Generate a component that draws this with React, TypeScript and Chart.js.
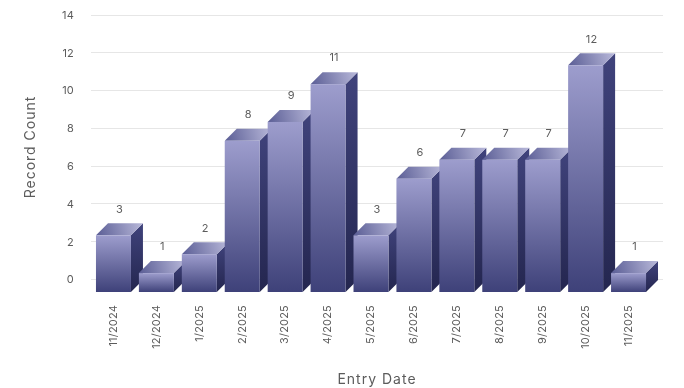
import React, { useEffect, useRef } from "react";
import { Chart, registerables } from "chart.js";

Chart.register(...registerables);

const categories = ["11/2024", "12/2024", "1/2025", "2/2025", "3/2025", "4/2025", "5/2025", "6/2025", "7/2025", "8/2025", "9/2025", "10/2025", "11/2025"];
const recordCounts = [3, 1, 2, 8, 9, 11, 3, 6, 7, 7, 7, 12, 1];
const yAxisStep = 2;
const yAxisMax = 14;
const xAxisTitle = "Entry Date";
const yAxisTitle = "Record Count";

const FONT = "Inter, 'Open Sans', sans-serif";
const DEPTH = 12;
const TEXT = "#5c5c5c";
const GRID = "#e6e6e6";

// Paints the extruded bars, the receding grid plane, the value captions and axis titles.
const bars3d = {
  id: "bars3d",
  beforeDraw(chart: any) {
    chart.ctx.letterSpacing = "0.2px";
  },
  beforeDatasetsDraw(chart: any) {
    const { ctx, chartArea, scales } = chart;
    const y = scales.y;
    ctx.save();
    ctx.strokeStyle = GRID;
    ctx.lineWidth = 1;
    for (let v = 0; v <= yAxisMax; v += yAxisStep) {
      const py = Math.floor(y.getPixelForValue(v) - DEPTH - 0.5) + 0.5;
      ctx.beginPath();
      ctx.moveTo(chartArea.left - 1, py);
      ctx.lineTo(chartArea.right + DEPTH + 1, py);
      ctx.stroke();
    }
    ctx.restore();
  },
  afterDatasetsDraw(chart: any) {
    const { ctx, chartArea } = chart;
    const meta = chart.getDatasetMeta(0);
    ctx.save();
    meta.data.forEach((bar: any, i: number) => {
      const { x, y, base, width } = bar.getProps(["x", "y", "base", "width"], true);
      const l = x - width / 2;
      const r = x + width / 2;

      const side = ctx.createLinearGradient(0, y - DEPTH, 0, base);
      side.addColorStop(0, "#40437c");
      side.addColorStop(1, "#24264f");
      ctx.fillStyle = side;
      ctx.beginPath();
      ctx.moveTo(r, y);
      ctx.lineTo(r + DEPTH, y - DEPTH);
      ctx.lineTo(r + DEPTH, base - DEPTH);
      ctx.lineTo(r, base);
      ctx.closePath();
      ctx.fill();

      const lid = ctx.createLinearGradient(l, y, r + DEPTH, y - DEPTH);
      lid.addColorStop(0, "#5a5d95");
      lid.addColorStop(1, "#b9b9da");
      ctx.fillStyle = lid;
      ctx.beginPath();
      ctx.moveTo(l, y);
      ctx.lineTo(l + DEPTH, y - DEPTH);
      ctx.lineTo(r + DEPTH, y - DEPTH);
      ctx.lineTo(r, y);
      ctx.closePath();
      ctx.fill();

      const front = ctx.createLinearGradient(0, y, 0, base);
      front.addColorStop(0, "#9d9dcd");
      front.addColorStop(1, "#3e4179");
      ctx.fillStyle = front;
      ctx.fillRect(l, y, width, base - y);

      ctx.fillStyle = TEXT;
      ctx.font = `11px ${FONT}`;
      ctx.textAlign = "center";
      ctx.textBaseline = "middle";
      ctx.fillText(String(recordCounts[i]), x + DEPTH / 2, y - DEPTH - 14);
    });

    ctx.fillStyle = TEXT;
    ctx.font = `14px ${FONT}`;
    ctx.letterSpacing = "1px";
    ctx.textAlign = "center";
    ctx.textBaseline = "middle";
    ctx.fillText(xAxisTitle, (chartArea.left + chartArea.right + DEPTH) / 2, 380);
    ctx.translate(31, 147);
    ctx.rotate(-Math.PI / 2);
    ctx.fillText(yAxisTitle, 0, 0);
    ctx.restore();
  },
};

export default function App() {
  const canvasRef = useRef<HTMLCanvasElement | null>(null);

  useEffect(() => {
    const chart = new Chart(canvasRef.current as HTMLCanvasElement, {
      type: "bar",
      data: {
        labels: categories,
        datasets: [
          {
            label: yAxisTitle,
            data: recordCounts,
            backgroundColor: "rgba(0,0,0,0)",
            barPercentage: 0.815,
            categoryPercentage: 1,
          },
        ],
      },
      options: {
        responsive: false,
        animation: false,
        layout: { padding: { top: 27.5, right: 34, left: 0, bottom: 0 } },
        plugins: { legend: { display: false }, tooltip: { enabled: false } },
        scales: {
          x: {
            grid: { display: false, drawTicks: false },
            border: { display: false },
            ticks: {
              minRotation: 90,
              maxRotation: 90,
              autoSkip: false,
              padding: 13,
              color: TEXT,
              font: { family: FONT, size: 11 },
            },
            afterFit(scale: any) {
              scale.height = 96;
            },
          },
          y: {
            min: 0,
            max: yAxisMax,
            grid: { display: false, drawTicks: false },
            border: { display: false },
            ticks: {
              stepSize: yAxisStep,
              padding: 18,
              labelOffset: -DEPTH,
              color: TEXT,
              font: { family: FONT, size: 11 },
            },
            afterFit(scale: any) {
              scale.width = 92;
            },
          },
        },
      },
      plugins: [bars3d],
    } as any);
    return () => chart.destroy();
  }, []);

  return (
    <div style={{ position: "fixed", left: 0, top: 0, width: 684, height: 388, background: "#fff" }}>
      <canvas ref={canvasRef} width={684} height={388} style={{ display: "block" }} />
    </div>
  );
}
